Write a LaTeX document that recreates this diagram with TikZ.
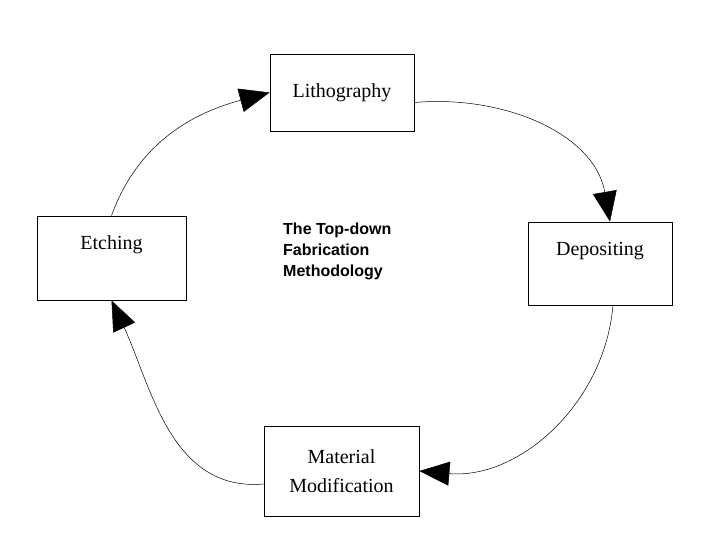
\documentclass[tikz,border=0pt]{standalone}
\usepackage{fontspec}
\setmainfont{Liberation Serif}
\setsansfont{Liberation Sans}
\usetikzlibrary{arrows.meta}
\tikzset{
  stagebox/.style = {rectangle, draw=black, line width=0.8pt, text centered, font=\fontsize{20}{29}\selectfont, align=center},
  cyclearrow/.style = {line width=0.5pt, -{Triangle[length=30pt, width=24pt]}},
}
\begin{document}
\begin{tikzpicture}[x=1pt, y=-1pt]
\useasboundingbox (0,0) rectangle (720,540);

% Steps of the cycle
\node (litho) [stagebox, minimum width=144pt, minimum height=77pt] at (342,92.5) {Lithography};
\node (etch) [stagebox, minimum width=149pt, minimum height=84pt, text depth=30pt] at (111.5,258) {Etching};
\node (dep) [stagebox, minimum width=144pt, minimum height=83pt, text depth=30pt] at (600,263.5) {Depositing};
\node (mat) [stagebox, minimum width=155pt, minimum height=90pt] at (341.5,471) {Material\\Modification};

% Title in the middle
\node (title) [anchor=north west, align=left, inner sep=0pt, font=\sffamily\bfseries\fontsize{16}{21}\selectfont] at (283,223) {The Top-down\\Fabrication\\Methodology};

% Arrows around the cycle
\draw [cyclearrow] (etch.north) to[out=70, in=195] (litho.west);
\draw [cyclearrow] ([yshift=-10pt]litho.east) to[out=5, in=100] ([xshift=10pt]dep.north);
\draw [cyclearrow] ([xshift=13pt]dep.south) to[out=-95, in=-5] (mat.east);
\draw [cyclearrow] ([yshift=-13pt]mat.west) to[out=185, in=-65] (etch.south);

\end{tikzpicture}
\end{document}
